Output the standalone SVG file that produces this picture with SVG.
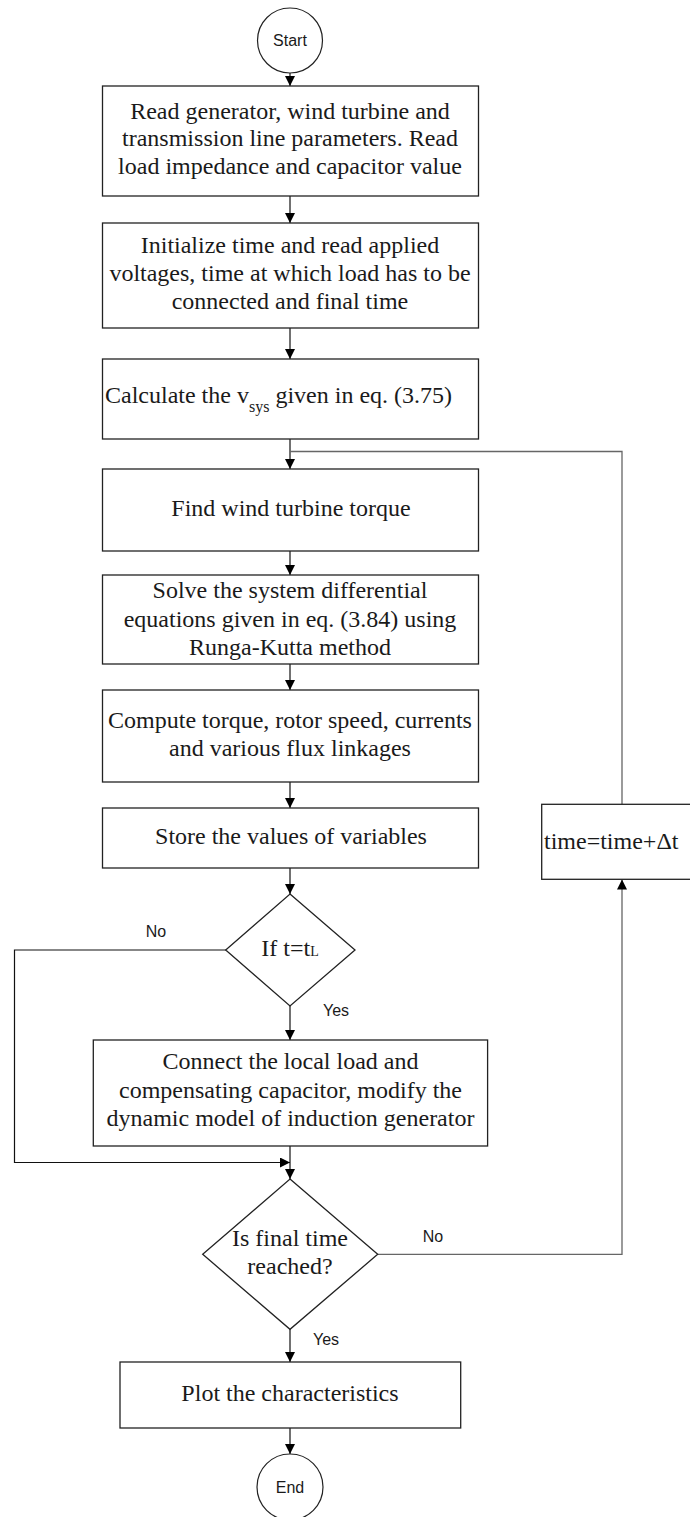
<svg xmlns="http://www.w3.org/2000/svg" width="690" height="1517" viewBox="0 0 690 1517">
<style>
.box{fill:#fff;stroke:#222;stroke-width:1.3}
.t{font-family:"Liberation Serif","Times New Roman",serif;font-size:24px;fill:#1a1a1a;text-anchor:middle}
.s{font-family:"Liberation Sans",Arial,sans-serif;font-size:16px;fill:#1a1a1a;text-anchor:middle}
.c{fill:none;stroke:#111;stroke-width:1.2}
.g{fill:none;stroke:#666;stroke-width:1.3}
</style>
<defs>
<marker id="ah" markerUnits="userSpaceOnUse" markerWidth="10" markerHeight="10" refX="10" refY="5" orient="auto">
<path d="M0,0 L10,5 L0,10 z" fill="#000"/>
</marker>
</defs>
<rect width="690" height="1517" fill="#fff"/>
<g id="connectors">
<line class="c" x1="290" y1="73" x2="290" y2="86" marker-end="url(#ah)"/>
<line class="c" x1="290" y1="196" x2="290" y2="223" marker-end="url(#ah)"/>
<line class="c" x1="290" y1="328" x2="290" y2="359" marker-end="url(#ah)"/>
<line class="c" x1="290" y1="439" x2="290" y2="469" marker-end="url(#ah)"/>
<line class="c" x1="290" y1="551" x2="290" y2="575" marker-end="url(#ah)"/>
<line class="c" x1="290" y1="664" x2="290" y2="690" marker-end="url(#ah)"/>
<line class="c" x1="290" y1="782" x2="290" y2="808" marker-end="url(#ah)"/>
<line class="c" x1="290" y1="868" x2="290" y2="894" marker-end="url(#ah)"/>
<line class="c" x1="290" y1="1006" x2="290" y2="1040" marker-end="url(#ah)"/>
<polyline class="c" points="226,950 14.5,950 14.5,1162.5 290,1162.5" marker-end="url(#ah)"/>
<line class="c" x1="290" y1="1146" x2="290" y2="1179" marker-end="url(#ah)"/>
<line class="c" x1="290" y1="1329" x2="290" y2="1362" marker-end="url(#ah)"/>
<line class="c" x1="290" y1="1428" x2="290" y2="1454" marker-end="url(#ah)"/>
<polyline class="g" points="377.7,1254.3 622,1254.3 622,879.5" marker-end="url(#ah)"/>
<polyline class="g" points="622,804 622,451.5 290,451.5"/>
</g>
<g id="start">
<circle cx="290" cy="40.5" r="32.5" fill="#fff" stroke="#222" stroke-width="1.2"/>
<text class="s" x="290" y="46">Start</text>
</g>
<g id="read-params">
<rect class="box" x="102.5" y="86" width="376" height="110"/>
<text class="t" x="290" y="119">Read generator, wind turbine and</text>
<text class="t" x="290" y="146">transmission line parameters. Read</text>
<text class="t" x="290" y="174">load impedance and capacitor value</text>
</g>
<g id="initialize">
<rect class="box" x="102.5" y="223" width="376" height="105"/>
<text class="t" x="290" y="253">Initialize time and read applied</text>
<text class="t" x="290" y="281">voltages, time at which load has to be</text>
<text class="t" x="290" y="309">connected and final time</text>
</g>
<g id="calc-vsys">
<rect class="box" x="102.5" y="359" width="376" height="80"/>
<text class="t" x="105" y="403" style="text-anchor:start">Calculate the v<tspan font-size="16" dy="9">sys</tspan><tspan dy="-9"> given in eq. (3.75)</tspan></text>
</g>
<g id="wind-torque">
<rect class="box" x="102.5" y="469" width="376" height="82"/>
<text class="t" x="291" y="516">Find wind turbine torque</text>
</g>
<g id="solve">
<rect class="box" x="102.5" y="575" width="376" height="89"/>
<text class="t" x="290" y="598">Solve the system differential</text>
<text class="t" x="290" y="627">equations given in eq. (3.84) using</text>
<text class="t" x="290" y="655">Runga-Kutta method</text>
</g>
<g id="compute">
<rect class="box" x="102.5" y="690" width="376" height="92"/>
<text class="t" x="290" y="728">Compute torque, rotor speed, currents</text>
<text class="t" x="290" y="756">and various flux linkages</text>
</g>
<g id="store">
<rect class="box" x="102.5" y="808" width="376" height="60"/>
<text class="t" x="291" y="844">Store the values of variables</text>
</g>
<g id="time-step">
<rect class="box" x="541.7" y="804.3" width="160" height="75"/>
<text class="t" x="544" y="849" style="text-anchor:start">time=time+Δt</text>
</g>
<g id="if-tl">
<polygon class="box" points="290,894 355,950 290,1006 225.7,950"/>
<text class="t" x="290" y="956">If t=t<tspan font-size="14">L</tspan></text>
<text class="s" x="156" y="937">No</text>
<text class="s" x="336" y="1016">Yes</text>
</g>
<g id="connect-load">
<rect class="box" x="93.3" y="1040" width="394.3" height="106"/>
<text class="t" x="290.5" y="1069">Connect the local load and</text>
<text class="t" x="290.5" y="1098">compensating capacitor, modify the</text>
<text class="t" x="290.5" y="1126">dynamic model of induction generator</text>
</g>
<g id="final-time">
<polygon class="box" points="290,1179 377.7,1254.3 290,1329.3 202.7,1254.3"/>
<text class="t" x="290" y="1246">Is final time</text>
<text class="t" x="290" y="1274">reached?</text>
<text class="s" x="433" y="1242">No</text>
<text class="s" x="326" y="1345">Yes</text>
</g>
<g id="plot">
<rect class="box" x="120" y="1362" width="340.7" height="66"/>
<text class="t" x="290" y="1401">Plot the characteristics</text>
</g>
<g id="end">
<circle cx="290" cy="1487" r="33" fill="#fff" stroke="#222" stroke-width="1.2"/>
<text class="s" x="290" y="1492.5">End</text>
</g>
</svg>
